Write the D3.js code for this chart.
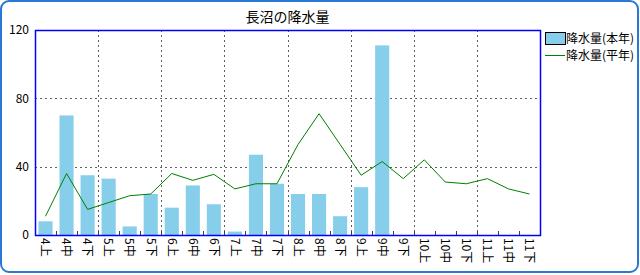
<!DOCTYPE html>
<html>
<head>
<meta charset="utf-8">
<script src="https://cdn.jsdelivr.net/npm/d3@7"></script>
<style>
  body { margin: 0; background: #fff; }
  text { font-family: "Noto Sans CJK JP", sans-serif; fill: #000; }
</style>
</head>
<body>
<svg id="chart" width="640" height="275"></svg>
<script>
// 旬ごとの区分
var periods = ["4上","4中","4下","5上","5中","5下","6上","6中","6下","7上","7中","7下",
               "8上","8中","8下","9上","9中","9下","10上","10中","10下","11上","11中","11下"];
// 本年 (9中まで)
var rainThisYear = [8, 70, 35, 33, 5, 24, 16, 29, 18, 2, 47, 30, 24, 24, 11, 28, 111];
// 平年
var rainNormal = [11, 36, 15, 19, 23, 24, 36, 32, 35.5, 27, 30, 30, 53, 71, 53, 35, 43, 33, 44, 31, 30, 33, 27, 24];
var yTicks = [0, 40, 80, 120];
var seriesNames = ["降水量(本年)", "降水量(平年)"];

var svg = d3.select("#chart");

// outer frame
svg.append("rect")
    .attr("x", 1).attr("y", 1).attr("width", 637).attr("height", 271)
    .attr("rx", 8).attr("ry", 8)
    .attr("fill", "#fff").attr("stroke", "#2a78d6").attr("stroke-width", 2);

// "top" is taken by window.top, so use plot* names
var plotL = 35, plotR = 540, plotT = 30, plotB = 235;

var x = d3.scaleBand().domain(periods).range([plotL, plotR]).paddingInner(0).paddingOuter(0);
var y = d3.scaleLinear().domain([0, 120]).range([plotB, plotT]);

// title
svg.append("text")
    .attr("x", (plotL + plotR) / 2).attr("y", 22)
    .attr("text-anchor", "middle")
    .attr("font-size", 14)
    .text("長沼の降水量");

var grid = svg.append("g");
// horizontal grid
grid.selectAll("line.h")
    .data(yTicks.filter(function(d) { return d > 0 && d < 120; }))
    .enter().append("line")
    .attr("x1", plotL).attr("x2", plotR)
    .attr("y1", function(d) { return Math.round(y(d)) + 0.5; })
    .attr("y2", function(d) { return Math.round(y(d)) + 0.5; })
    .attr("stroke", "#606060").attr("stroke-dasharray", "2,3");

// vertical grid every 3 bands
var vlines = d3.range(3, periods.length, 3);
grid.selectAll("line.v")
    .data(vlines)
    .enter().append("line")
    .attr("x1", function(i) { return Math.round(x(periods[i])) + 0.5; })
    .attr("x2", function(i) { return Math.round(x(periods[i])) + 0.5; })
    .attr("y1", plotT).attr("y2", plotB)
    .attr("stroke", "#606060").attr("stroke-dasharray", "2,3");

// small inner ticks at every band boundary
svg.append("g").selectAll("line")
    .data(d3.range(1, periods.length))
    .enter().append("line")
    .attr("x1", function(i) { return Math.round(x(periods[i])) + 0.5; })
    .attr("x2", function(i) { return Math.round(x(periods[i])) + 0.5; })
    .attr("y1", plotB - 4).attr("y2", plotB)
    .attr("stroke", "#404040");

// bars
var bw = x.bandwidth() * 0.67;
svg.append("g").selectAll("rect")
    .data(rainThisYear)
    .enter().append("rect")
    .attr("x", function(d, i) { return x(periods[i]) + (x.bandwidth() - bw) / 2; })
    .attr("y", function(d) { return y(d); })
    .attr("width", bw)
    .attr("height", function(d) { return y(0) - y(d); })
    .attr("fill", "#87ceeb");

// normal line
var line = d3.line()
    .x(function(d, i) { return x(periods[i]) + x.bandwidth() / 2; })
    .y(function(d) { return y(d); });
svg.append("path")
    .datum(rainNormal)
    .attr("d", line)
    .attr("fill", "none")
    .attr("stroke", "#008000")
    .attr("stroke-width", 1);

// plot border
svg.append("rect")
    .attr("x", plotL + 0.5).attr("y", plotT + 0.5)
    .attr("width", plotR - plotL).attr("height", plotB - plotT)
    .attr("fill", "none").attr("stroke", "#0000ff").attr("stroke-width", 1.5);

// y labels
svg.append("g").selectAll("text")
    .data(yTicks)
    .enter().append("text")
    .attr("x", 29).attr("y", function(d) { return y(d); })
    .attr("dy", "0.35em")
    .attr("text-anchor", "end")
    .attr("font-size", 12)
    .text(function(d) { return d; });

// x labels, rotated
svg.append("g").selectAll("text")
    .data(periods)
    .enter().append("text")
    .attr("transform", function(d) {
        return "translate(" + (x(d) + x.bandwidth() / 2) + "," + (plotB + 3) + ") rotate(90)";
    })
    .attr("dy", "0.35em")
    .attr("text-anchor", "start")
    .attr("font-size", 12)
    .text(function(d) { return d; });

// legend
var lg = svg.append("g");
lg.append("rect")
    .attr("x", 545.5).attr("y", 32.5).attr("width", 20).attr("height", 12)
    .attr("fill", "#87ceeb").attr("stroke", "#000");
lg.append("text").attr("x", 566).attr("y", 38.5).attr("dy", "0.35em")
    .attr("font-size", 12).text(seriesNames[0]);
lg.append("line")
    .attr("x1", 545).attr("x2", 565).attr("y1", 55.5).attr("y2", 55.5)
    .attr("stroke", "#008000");
lg.append("text").attr("x", 566).attr("y", 55.5).attr("dy", "0.35em")
    .attr("font-size", 12).text(seriesNames[1]);
</script>
</body>
</html>
